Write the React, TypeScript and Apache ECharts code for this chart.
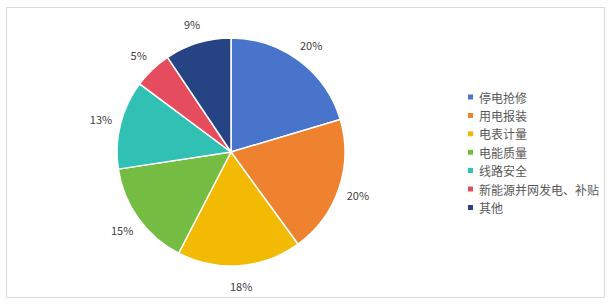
import React, { useEffect, useRef } from "react";
import * as echarts from "echarts";

const categories = ["停电抢修", "用电报装", "电表计量", "电能质量", "线路安全", "新能源并网发电、补贴", "其他"];
const values = [20.4, 19.6, 17.6, 15.0, 12.6, 5.4, 9.4];
const colors = ["#4874CB", "#EE822F", "#F2BA02", "#75BD42", "#30C0B4", "#E54C5E", "#264383"];

const CX = 231;
const CY = 152;
const R = 114;
const LABEL_R = 134;

export default function App() {
  const ref = useRef<HTMLDivElement>(null);
  useEffect(() => {
    if (!ref.current) return;
    const chart = echarts.init(ref.current, undefined, { renderer: "svg" });
    const total = values.reduce((a, b) => a + b, 0);
    const mids: number[] = [];
    let acc = 0;
    values.forEach((v) => {
      mids.push(((acc + v / 2) / total) * Math.PI * 2);
      acc += v;
    });
    chart.setOption({
      animation: false,
      backgroundColor: "#ffffff",
      textStyle: { fontFamily: "Noto Sans CJK SC" },
      graphic: [
        {
          type: "rect",
          shape: { x: 6.5, y: 7.5, width: 598, height: 290 },
          style: { fill: "none", stroke: "#d9d9d9", lineWidth: 1 },
          silent: true,
        },
      ],
      legend: {
        orient: "vertical",
        left: 461,
        top: 85,
        icon: "rect",
        itemWidth: 7,
        itemHeight: 7,
        itemGap: 4.4,
        textStyle: { fontSize: 12, color: "#595959", lineHeight: 14, fontFamily: "Noto Sans CJK SC" },
        data: categories,
      },
      series: [
        {
          type: "pie",
          center: [CX, CY],
          radius: [0, R],
          startAngle: 90,
          clockwise: true,
          itemStyle: { borderColor: "#ffffff", borderWidth: 1.5 },
          label: {
            show: true,
            position: "outside",
            formatter: (p: any) => Math.round(p.percent) + "%",
            fontSize: 11,
            color: "#404040",
            fontFamily: "Noto Sans CJK SC",
          },
          labelLine: { show: false },
          labelLayout: (params: any) => {
            const a = mids[params.dataIndex];
            return {
              x: CX + Math.sin(a) * LABEL_R,
              y: CY - Math.cos(a) * LABEL_R,
              align: "center",
              verticalAlign: "middle",
            };
          },
          data: categories.map((c, i) => ({
            name: c,
            value: values[i],
            itemStyle: { color: colors[i] },
          })),
        },
      ],
    });
    return () => chart.dispose();
  }, []);
  return (
    <div
      ref={ref}
      style={{ position: "absolute", left: 0, top: 0, width: 611, height: 305 }}
    />
  );
}
